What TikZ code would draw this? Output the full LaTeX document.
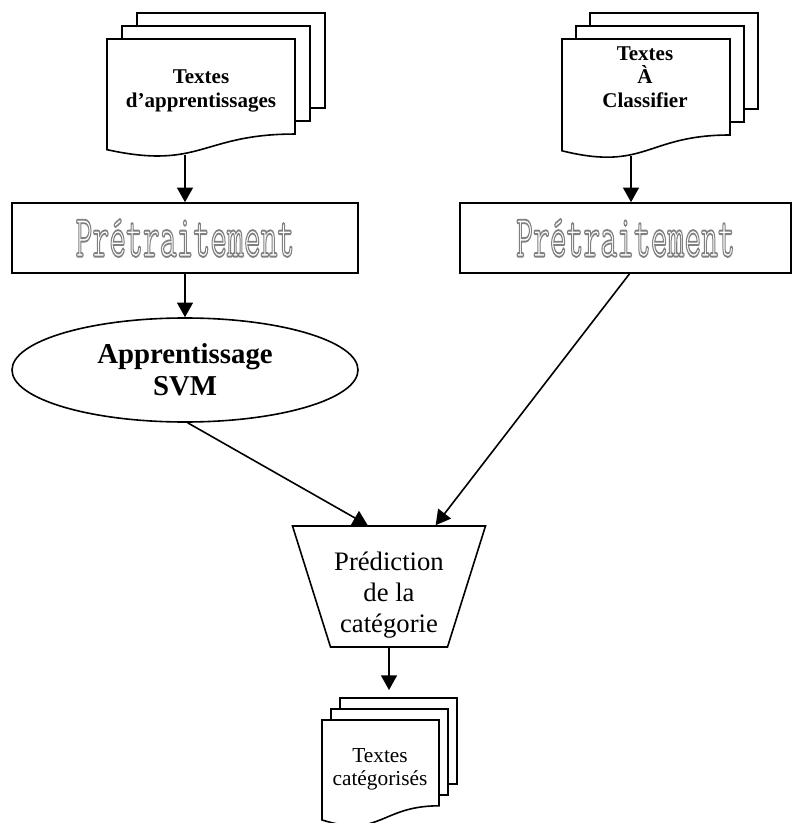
\documentclass[tikz,border=0pt]{standalone}
\usepackage{fontspec}
\usepackage{graphicx}
\setmainfont{Liberation Serif}
\usetikzlibrary{shapes.geometric,arrows.meta}

% pile of three pages: x, y (front top left), width, height, shift x, shift y
\newcommand{\pilepages}[6]{%
  \foreach \k in {2,1}
    \filldraw[fill=white] ({#1+\k*#5},{#2-\k*#6}) rectangle ++(#3,{0.802*#4});
  \filldraw[fill=white] (#1,#2) -- ({#1+#3},#2) -- ({#1+#3},{#2+0.802*#4})
    .. controls ({#1+0.5*#3},{#2+0.802*#4}) and ({#1+0.5*#3},{#2+1.1075*#4}) .. (#1,{#2+0.934*#4}) -- cycle;
}
% hollow grey letters
\newcommand{\pretexte}{\scalebox{1}[1.85]{\fontsize{24.5}{26}\selectfont\ttfamily
  \special{pdf:literal direct 1 Tr 0.75 w 0.5 0.5 0.5 RG}Prétraitement\special{pdf:literal direct 0 Tr 0 0 0 RG}}}

\begin{document}
\begin{tikzpicture}[x=0.75pt,y=-0.75pt,line width=1.2pt,
    fleche/.style={-{Triangle[length=11pt,width=12pt]}},
    boite/.style={draw,rectangle,minimum width=259.5pt,minimum height=52.5pt,inner sep=0pt},
    petitgras/.style={align=center,font=\fontsize{15.75}{17.6}\selectfont\bfseries}]
    \useasboundingbox (0,0) rectangle (795,823);

    \pilepages{107}{39}{188}{118.5}{15}{13}
    \pilepages{562}{39}{168}{119.7}{14}{13}
    \pilepages{322}{720}{117}{107}{9}{11}

    \node[petitgras] (txtA) at (201,91) {Textes\\d’apprentissages};
    \node[petitgras] (txtB) at (645,77) {Textes\\À\\Classifier};
    \node[align=center,font=\fontsize{16}{17.3}\selectfont] (txtC) at (380,769) {Textes\\catégorisés};
    \coordinate (basA) at (185,155);
    \coordinate (basB) at (631,156);

    \node[boite] (preA) at (185,238) {\pretexte};
    \node[boite,minimum width=248.25pt] (preB) at (625.5,238) {\pretexte};
    \node[draw,ellipse,minimum width=259.5pt,minimum height=78pt,inner sep=0pt,align=center,
        font=\fontsize{21.6}{24}\selectfont\bfseries] (svm) at (185,370) {Apprentissage\\SVM};
    \node[draw,trapezium,trapezium stretches=true,shape border rotate=180,
        trapezium left angle=72,trapezium right angle=72,minimum width=144.75pt,minimum height=90.75pt,
        inner sep=2pt] (pred) at (389,586.5) {};
    \node[align=center,font=\fontsize{20}{23.2}\selectfont] (txtP) at (389,595) {Prédiction\\de la\\catégorie};
    \coordinate (hautC) at (389,690);

    \draw[fleche] (basA) -- (preA);
    \draw[fleche] (basB) -- (basB |- preB.north);
    \draw[fleche] (preA) -- (svm);
    \draw[fleche] ([xshift=2pt]svm.south) -- ([xshift=-16pt]pred.north);
    \draw[fleche] ([xshift=3pt]preB.south) -- ([xshift=35pt]pred.north);
    \draw[fleche] (pred.south) -- (pred.south |- hautC);
\end{tikzpicture}
\end{document}
